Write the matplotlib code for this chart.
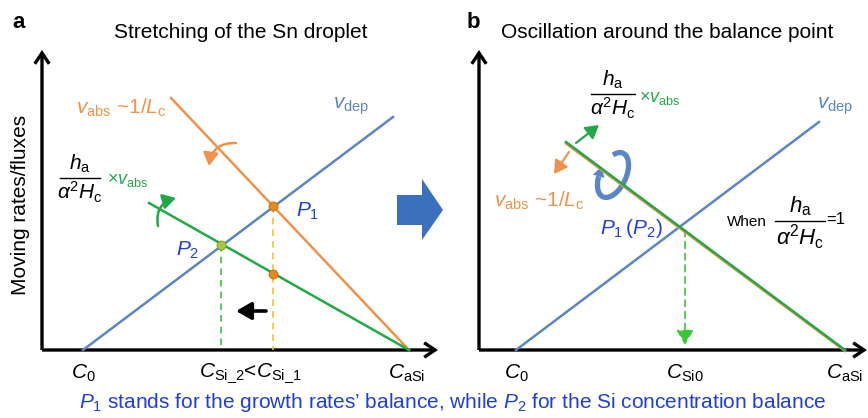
import numpy as np
import matplotlib
matplotlib.use("Agg")
import matplotlib.pyplot as plt
from matplotlib.patches import FancyArrowPatch, Polygon, Arc

plt.rcParams["font.family"] = ["Liberation Sans", "DejaVu Sans"]
plt.rcParams["mathtext.fontset"] = "custom"
plt.rcParams["mathtext.rm"] = "Liberation Sans"
plt.rcParams["mathtext.it"] = "Liberation Sans:italic"
plt.rcParams["mathtext.sf"] = "Liberation Sans"

BLUE, ORANGE, GREEN, YEL = "#5b86c4", "#f0924a", "#22a945", "#f5c32c"
TXTBLUE = "#1f3fd6"

# schematic geometry (figure pixel space, y down)
# panel a
a_yaxis = [(42, 350), (42, 50)]
a_xaxis = [(42, 350), (438, 350)]
a_dep = [(83, 350), (393, 117)]
a_abs = [(171, 98), (409, 350)]
a_green = [(149, 203), (409, 350)]
a_P1 = (273, 206)
a_P2 = (221, 245)
a_Pg = (273, 274)
# panel b
b_yaxis = [(479, 350), (479, 50)]
b_xaxis = [(479, 350), (867, 350)]
b_dep = [(516, 350), (819, 122)]
b_line = [(566, 142), (845, 350)]
b_P = (685, 228)

fig = plt.figure(figsize=(8.68, 4.18), dpi=100)
ax = fig.add_axes([0, 0, 1, 1])
ax.set_xlim(0, 868); ax.set_ylim(418, 0); ax.axis("off")

def seg(p, **kw):
    ax.plot([p[0][0], p[1][0]], [p[0][1], p[1][1]], **kw)

def arrow(p0, p1, color, lw=1.6, style="-|>,head_length=6,head_width=3.5", **kw):
    ax.add_patch(FancyArrowPatch(p0, p1, arrowstyle=style, lw=lw, color=color,
                                 shrinkA=0, shrinkB=0, mutation_scale=1.3, **kw))

def frac(xc, yl, hw, fs=15):
    ax.text(xc, yl - 3, r"$h_{\mathrm{a}}$", fontsize=fs, ha="center", va="bottom")
    ax.plot([xc - hw, xc + hw], [yl, yl], color="black", lw=1.0)
    ax.text(xc, yl + 2, r"$\alpha^{2}H_{\mathrm{c}}$", fontsize=fs, ha="center", va="top")

for p in (a_yaxis, a_xaxis, b_yaxis, b_xaxis):
    arrow(p[0], p[1], "black", lw=2.4, style="->,head_length=6,head_width=4", capstyle="butt",
          joinstyle="miter")

seg(a_dep, color=BLUE, lw=1.8)
seg(a_abs, color=ORANGE, lw=1.8)
seg(a_green, color=GREEN, lw=1.8)
ax.plot([a_P2[0]]*2, [a_P2[1], 350], color="#39c639", lw=1.2, ls=(0, (4, 3)))
ax.plot([a_P1[0]]*2, [a_P1[1], 350], color=YEL, lw=1.2, ls=(0, (4, 3)))
for pt, c, e in ((a_P1, "#e8891c", "#c06a10"), (a_Pg, "#e8891c", "#c06a10"), (a_P2, "#a6c93a", "#7a9a20")):
    ax.plot(*pt, "o", ms=6.5, mfc=c, mec=e, mew=0.6, zorder=5)

# left arrow
arrow((266, 311), (236, 311), "black", lw=2.6, style="-|>,head_length=7,head_width=4")
# curved arrows
arrow((236, 143), (209, 166), ORANGE, lw=1.8, connectionstyle="arc3,rad=0.45")
arrow((158, 226), (176, 198), GREEN, lw=1.8, connectionstyle="arc3,rad=-0.45")

# panel b lines
ax.plot([b_line[0][0], b_line[1][0]], [b_line[0][1] + 1.5, b_line[1][1] + 1.0], color=ORANGE, lw=1.8, zorder=3)
seg(b_line, color=GREEN, lw=1.8, zorder=3)
seg(b_dep, color=BLUE, lw=1.8, zorder=1)
arrow((b_P[0], b_P[1] + 2), (b_P[0], 345), "#39c639", lw=1.2, ls=(0, (4, 3)),
      style="-|>,head_length=7,head_width=4")
arrow((576, 143), (599, 125), GREEN)
arrow((569, 152), (554, 174), ORANGE)

# circular arrow around the balanced line
cx, cy, ea, eb, ang = 613, 175, 13, 24, 25
th1, th2 = -115, 150
RING = "#5a86c6"
ax.add_patch(Arc((cx, cy), 2 * ea, 2 * eb, angle=ang, theta1=th1, theta2=th2, lw=3.8, color=RING, zorder=2))
th = np.deg2rad(th2)
t = np.arctan2(ea * np.sin(th), eb * np.cos(th))
r = np.deg2rad(ang)
ex, ey = ea * np.cos(t), eb * np.sin(t)
px, py = cx + ex * np.cos(r) - ey * np.sin(r), cy + ex * np.sin(r) + ey * np.cos(r)
dx, dy = -ea * np.sin(t), eb * np.cos(t)
tx, ty = dx * np.cos(r) - dy * np.sin(r), dx * np.sin(r) + dy * np.cos(r)
n = np.hypot(tx, ty); tx, ty = tx / n, ty / n
ax.add_patch(Polygon([(px + 10 * tx, py + 10 * ty), (px - 6 * ty, py + 6 * tx), (px + 6 * ty, py - 6 * tx)],
                     closed=True, color=RING, lw=0, zorder=2))

# block arrow between panels
ax.add_patch(Polygon([(397, 195), (422, 195), (422, 179), (443, 210), (422, 240), (422, 225), (397, 225)],
                     closed=True, color="#3a70be", lw=0))

# texts
ax.text(12, 22, "a", fontsize=16, fontweight="bold", va="center")
ax.text(241, 32, "Stretching of the Sn droplet", fontsize=15, ha="center", va="center")
ax.text(467, 22, "b", fontsize=16, fontweight="bold", va="center")
ax.text(501, 32, "Oscillation around the balance point", fontsize=15, ha="left", va="center")
ax.text(21, 205, "Moving rates/fluxes", fontsize=15, rotation=90, ha="center", va="center")

ax.text(76, 108, r"$v_{\mathrm{abs}}$ ~1/$L_{\mathrm{c}}$", fontsize=15, color=ORANGE, va="center")
ax.text(333, 106, r"$v_{\mathrm{dep}}$", fontsize=15, color=BLUE, va="center")
frac(80, 178, 20)
ax.text(107, 180, r"$\times v_{\mathrm{abs}}$", fontsize=13, color=GREEN, va="center")
ax.text(296, 211, r"$P_{1}$", fontsize=15, color=TXTBLUE, va="center")
ax.text(176, 250, r"$P_{2}$", fontsize=15, color=TXTBLUE, va="center")
ax.text(83, 373, r"$C_{0}$", fontsize=15, ha="center", va="center")
ax.text(250, 373, r"$C_{\mathrm{Si\_2}}$<$C_{\mathrm{Si\_1}}$", fontsize=15, ha="center", va="center")
ax.text(407, 373, r"$C_{\mathrm{aSi}}$", fontsize=15, ha="center", va="center")

frac(613, 94, 22)
ax.text(639, 98, r"$\times v_{\mathrm{abs}}$", fontsize=13, color=GREEN, va="center")
ax.text(817, 106, r"$v_{\mathrm{dep}}$", fontsize=15, color=BLUE, va="center")
ax.text(494, 201, r"$v_{\mathrm{abs}}$ ~1/$L_{\mathrm{c}}$", fontsize=15, color=ORANGE, va="center")
ax.text(600, 229, r"$P_{1}\,(P_{2})$", fontsize=15, color=TXTBLUE, va="center")
ax.text(727, 222, "When", fontsize=11, va="center")
frac(800, 221, 25, fs=16)
ax.text(826, 219, "=1", fontsize=12, va="center")
ax.text(516, 373, r"$C_{0}$", fontsize=15, ha="center", va="center")
ax.text(685, 373, r"$C_{\mathrm{Si0}}$", fontsize=15, ha="center", va="center")
ax.text(845, 373, r"$C_{\mathrm{aSi}}$", fontsize=15, ha="center", va="center")

ax.text(453, 403, r"$P_{1}$ stands for the growth rates’ balance, while $P_{2}$ for the Si concentration balance",
        fontsize=15, color=TXTBLUE, ha="center", va="center")

fig.savefig("out.png", dpi=100)
